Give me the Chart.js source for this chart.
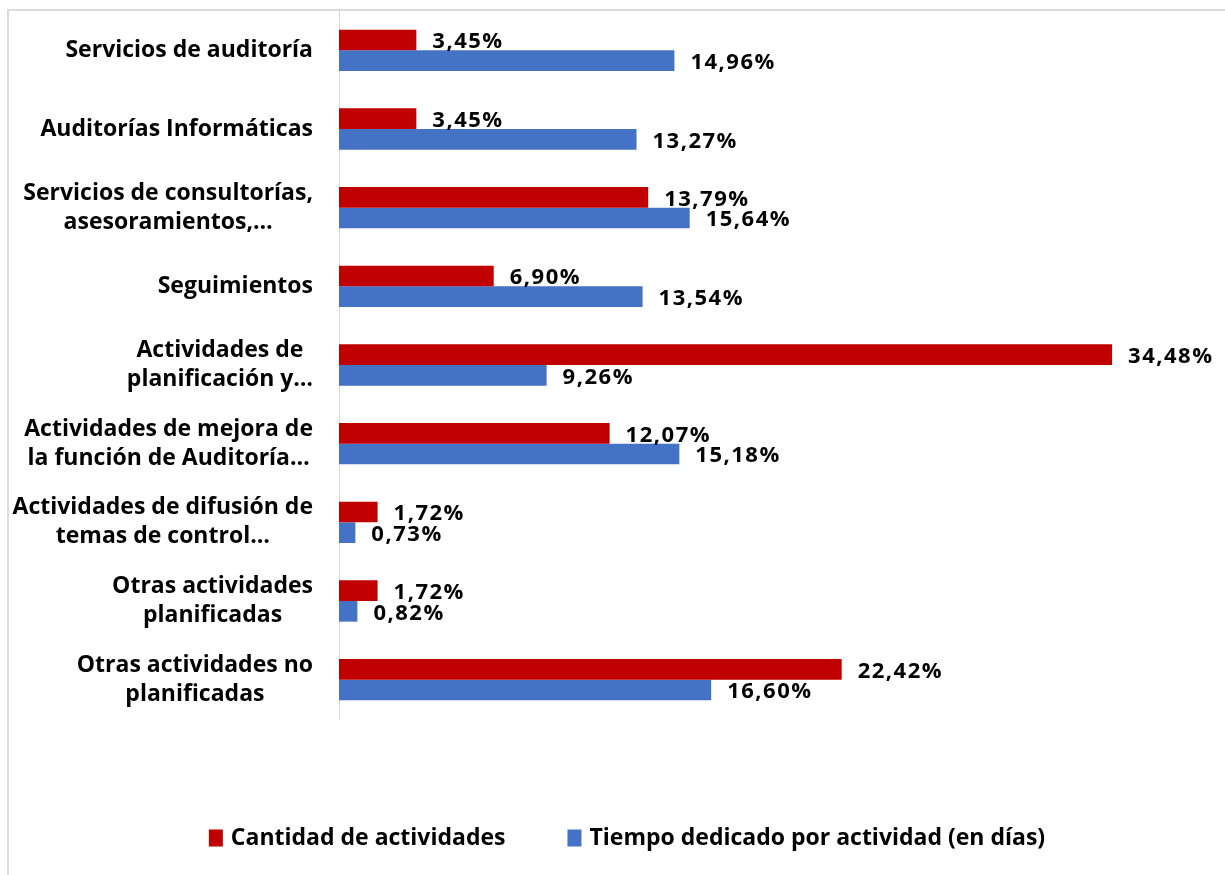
<!DOCTYPE html>
<html>
<head>
<meta charset="utf-8">
<script src="https://cdn.jsdelivr.net/npm/chart.js@4.4.1/dist/chart.umd.min.js"></script>
<style>
  html, body { margin:0; padding:0; background:#fff; overflow:hidden; }
  #frame { position:absolute; left:7px; top:9px; width:1240px; height:900px;
           border-top:2px solid #dcdcdc; border-left:2px solid #dcdcdc; }
  #wrap { position:absolute; left:0; top:0; width:1225px; height:875px; }
</style>
</head>
<body>
<div id="frame"></div>
<div id="wrap"><canvas id="chart"></canvas></div>
<script>
// ---------- Data ----------
const categories = [
  ['Servicios de auditoría'],
  ['Auditorías Informáticas'],
  ['Servicios de consultorías,', 'asesoramientos,…'],
  ['Seguimientos'],
  ['Actividades de', 'planificación y…'],
  ['Actividades de mejora de', 'la función de Auditoría…'],
  ['Actividades de difusión de', 'temas de control…'],
  ['Otras actividades', 'planificadas'],
  ['Otras actividades no', 'planificadas']
];
const seriesNames = ['Cantidad de actividades', 'Tiempo dedicado por actividad (en días)'];
const cantidad = [3.45, 3.45, 13.79, 6.90, 34.48, 12.07, 1.72, 1.72, 22.42];
const tiempo   = [14.96, 13.27, 15.64, 13.54, 9.26, 15.18, 0.73, 0.82, 16.60];

const RED  = '#c00000';
const BLUE = '#4472c4';
const FONT = '"Open Sans", Lato, sans-serif';

function pct(v){ return v.toFixed(2).replace('.', ',') + '%'; }

// ---------- Plugins ----------
// category labels: block right-aligned at the axis, lines centred inside the block
const catLabels = {
  id: 'catLabels',
  afterDraw(chart){
    const { ctx, scales:{ y } } = chart;
    const right = chart.chartArea.left - 26;
    const lh = 29;
    ctx.save();
    ctx.font = 'bold 23px ' + FONT;
    ctx.fillStyle = '#000';
    ctx.textAlign = 'center';
    ctx.textBaseline = 'middle';
    categories.forEach((lines, i) => {
      const cy = y.getPixelForValue(i);
      const w = Math.max(...lines.map(l => ctx.measureText(l).width));
      const cx = right - w / 2;
      const y0 = cy - (lines.length - 1) * lh / 2;
      lines.forEach((l, k) => ctx.fillText(l, cx, y0 + k * lh));
    });
    ctx.restore();
  }
};

// value labels at the end of each bar
const valueLabels = {
  id: 'valueLabels',
  afterDatasetsDraw(chart){
    const { ctx } = chart;
    ctx.save();
    ctx.font = 'bold 22px ' + FONT;
    ctx.letterSpacing = '1.5px';
    ctx.fillStyle = '#000';
    ctx.textAlign = 'left';
    ctx.textBaseline = 'middle';
    chart.data.datasets.forEach((ds, di) => {
      chart.getDatasetMeta(di).data.forEach((bar, i) => {
        ctx.fillText(pct(ds.data[i]), bar.x + 16, bar.y + 2);
      });
    });
    ctx.restore();
  }
};

// legend along the bottom
const bottomLegend = {
  id: 'bottomLegend',
  afterDraw(chart){
    const { ctx } = chart;
    const colors = [RED, BLUE];
    const box = 14, boxH = 17, gapText = 8, gapItem = 62, cy = 838;
    ctx.save();
    ctx.font = 'bold 23px ' + FONT;
    ctx.textBaseline = 'middle';
    const widths = seriesNames.map(s => ctx.measureText(s).width);
    const total = widths.reduce((a, w) => a + box + gapText + w, 0) + gapItem;
    let x = 627 - total / 2;
    seriesNames.forEach((s, i) => {
      ctx.fillStyle = colors[i];
      ctx.fillRect(x, cy - boxH / 2, box, boxH);
      ctx.fillStyle = '#000';
      ctx.fillText(s, x + box + gapText, cy);
      x += box + gapText + widths[i] + gapItem;
    });
    ctx.restore();
  }
};

// ---------- Chart ----------
new Chart(document.getElementById('chart'), {
  type: 'bar',
  data: {
    labels: categories,
    datasets: [
      { label: seriesNames[0], data: cantidad, backgroundColor: RED },
      { label: seriesNames[1], data: tiempo, backgroundColor: BLUE }
    ]
  },
  options: {
    indexAxis: 'y',
    responsive: true,
    maintainAspectRatio: false,
    animation: false,
    categoryPercentage: 0.525,
    barPercentage: 1,
    layout: { padding: { left: 339, right: 34, top: 11, bottom: 156 } },
    plugins: { legend: { display: false }, tooltip: { enabled: false } },
    scales: {
      x: { display: false, min: 0, max: 38 },
      y: {
        ticks: { display: false },
        grid: { display: false, drawTicks: false },
        border: { display: true, color: '#d9d9d9', width: 1 }
      }
    }
  },
  plugins: [catLabels, valueLabels, bottomLegend]
});
</script>
</body>
</html>
